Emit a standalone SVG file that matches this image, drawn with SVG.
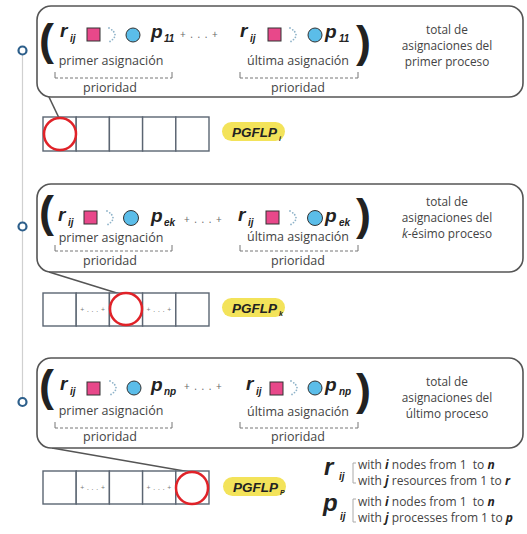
<svg xmlns="http://www.w3.org/2000/svg" width="527" height="534" viewBox="0 0 527 534">
<style>
.box{fill:#fff;stroke:#555;stroke-width:1.6}
.tail{fill:none;stroke:#555;stroke-width:1.6}
.cell{fill:#fff;stroke:#5b6572;stroke-width:1.4}
.mark{fill:none;stroke:#e02228;stroke-width:2.5}
.res{fill:#e8488a;stroke:#333;stroke-width:1}
.proc{fill:#5bbde9;stroke:#333;stroke-width:1}
.dots{fill:none;stroke:#8fb3c9;stroke-width:1.8;stroke-linecap:round;stroke-dasharray:0 3}
.var{font-family:"Liberation Sans",Arial,sans-serif;font-weight:bold;font-style:italic;font-size:19px;fill:#222}
.sub{font-family:"Liberation Sans",Arial,sans-serif;font-weight:bold;font-style:italic;font-size:10px;fill:#222}
.paren{font-family:"Liberation Sans",Arial,sans-serif;font-weight:bold;font-size:45px;fill:#222}
.lbl{font-family:"Open Sans",sans-serif;font-size:12.5px;fill:#444}
.rt{font-family:"Open Sans",sans-serif;font-size:11.8px;fill:#444;text-anchor:middle}
.mid{text-anchor:middle}
.brk{fill:none;stroke:#777;stroke-width:1;stroke-dasharray:3 2}
.tick{fill:none;stroke:#777;stroke-width:1}
.plus{font-family:"Open Sans",sans-serif;font-size:10px;fill:#666;letter-spacing:1px}
.cplus{font-family:"Open Sans",sans-serif;font-size:7px;fill:#777;text-anchor:middle;letter-spacing:0.5px}
.pill{fill:#f3e35a}
.pg{font-family:"Liberation Sans",Arial,sans-serif;font-weight:bold;font-style:italic;font-size:13.5px;fill:#222}
.tl{stroke:#d0d0d0;stroke-width:1.2}
.node{fill:#fff;stroke:#2d5f8b;stroke-width:2.2}
.leg{font-family:"Open Sans",sans-serif;font-size:12px;fill:#444}
.bi{font-weight:bold;font-style:italic;fill:#222}
</style>

<g id="timeline">
<line class="tl" x1="22.5" y1="50" x2="22.5" y2="403"/>
<circle class="node" cx="22.5" cy="50.5" r="4"/>
<circle class="node" cx="22.5" cy="226.5" r="4"/>
<circle class="node" cx="22.5" cy="402" r="4"/>
</g>

<g id="connectors">
<line class="tail" x1="49" y1="97" x2="59" y2="118"/>
<line class="tail" x1="49" y1="272" x2="120" y2="294"/>
<line class="tail" x1="52" y1="448" x2="190" y2="472"/>
</g>

<g id="proc1">
<rect class="box" x="37" y="6" width="486" height="91" rx="14"/>
<text class="paren" x="39" y="55">(</text>
<text class="var" x="60" y="37">r</text><text class="sub" x="70" y="42">ij</text>
<rect class="res" x="87" y="28" width="13" height="13"/>
<path class="dots" d="M109,28 Q121,35 109,42"/>
<circle class="proc" cx="133" cy="35" r="7"/>
<text class="var" x="151" y="38">p</text><text class="sub" x="164" y="42">11</text>
<text class="plus" x="180" y="38">+ . . . +</text>
<text class="var" x="240" y="37">r</text><text class="sub" x="250" y="42">ij</text>
<rect class="res" x="268" y="28" width="13" height="13"/>
<path class="dots" d="M290,28 Q302,35 290,42"/>
<circle class="proc" cx="315" cy="35" r="7"/>
<text class="var" x="325" y="38">p</text><text class="sub" x="339" y="42">11</text>
<text class="paren" x="356" y="57">)</text>
<text class="lbl mid" x="111" y="65">primer asignación</text>
<text class="lbl mid" x="298" y="65">última asignación</text>
<path class="brk" d="M55,78 H172"/><path class="tick" d="M55,72 V78 M172,72 V78"/>
<path class="brk" d="M240,78 H358"/><path class="tick" d="M240,72 V78 M358,72 V78"/>
<text class="lbl mid" x="110" y="92">prioridad</text>
<text class="lbl mid" x="298" y="92">prioridad</text>
<text class="rt" x="447" y="34">total de</text>
<text class="rt" x="447" y="50">asignaciones del</text>
<text class="rt" x="447" y="66">primer proceso</text>
</g>

<g id="array1">
<rect class="cell" x="43" y="117" width="33.2" height="34"/>
<rect class="cell" x="76.2" y="117" width="33.2" height="34"/>
<rect class="cell" x="109.4" y="117" width="33.2" height="34"/>
<rect class="cell" x="142.6" y="117" width="33.2" height="34"/>
<rect class="cell" x="175.8" y="117" width="33.2" height="34"/>
<circle class="mark" cx="60" cy="134" r="16"/>
</g>
<g id="pgflp1">
<rect class="pill" x="222" y="122" width="63" height="19" rx="9.5"/>
<text class="pg" x="232" y="137">PGFLP</text><text class="sub" x="279" y="141" style="font-size:7px">i</text>
</g>

<g id="proc2">
<rect class="box" x="37" y="184" width="486" height="88" rx="14"/>
<text class="paren" x="39" y="227">(</text>
<text class="var" x="58" y="221">r</text><text class="sub" x="68" y="226">ij</text>
<rect class="res" x="84" y="211" width="13" height="13"/>
<path class="dots" d="M107,211 Q119,218 107,225"/>
<circle class="proc" cx="131" cy="218" r="7.5"/>
<text class="var" x="151" y="222">p</text><text class="sub" x="164" y="226">ek</text>
<text class="plus" x="184" y="223">+ . . . +</text>
<text class="var" x="238" y="221">r</text><text class="sub" x="248" y="226">ij</text>
<rect class="res" x="266" y="211" width="13" height="13"/>
<path class="dots" d="M290,211 Q302,218 290,225"/>
<circle class="proc" cx="315" cy="218" r="7.5"/>
<text class="var" x="325" y="222">p</text><text class="sub" x="339" y="226">ek</text>
<text class="paren" x="356" y="230">)</text>
<text class="lbl mid" x="111" y="242">primer asignación</text>
<text class="lbl mid" x="298" y="241">última asignación</text>
<path class="brk" d="M55,251 H172"/><path class="tick" d="M55,245 V251 M172,245 V251"/>
<path class="brk" d="M240,251 H358"/><path class="tick" d="M240,245 V251 M358,245 V251"/>
<text class="lbl mid" x="110" y="265">prioridad</text>
<text class="lbl mid" x="298" y="265">prioridad</text>
<text class="rt" x="447" y="206">total de</text>
<text class="rt" x="447" y="222">asignaciones del</text>
<text class="rt" x="447" y="238"><tspan font-style="italic">k</tspan>-ésimo proceso</text>
</g>

<g id="array2">
<rect class="cell" x="43" y="293" width="33.2" height="33"/>
<rect class="cell" x="76.2" y="293" width="33.2" height="33"/>
<rect class="cell" x="109.4" y="293" width="33.2" height="33"/>
<rect class="cell" x="142.6" y="293" width="33.2" height="33"/>
<rect class="cell" x="175.8" y="293" width="33.2" height="33"/>
<text class="cplus" x="92.8" y="312">+ . . . +</text>
<text class="cplus" x="159.2" y="312">+ . . . +</text>
<circle class="mark" cx="126" cy="309" r="16"/>
</g>
<g id="pgflp2">
<rect class="pill" x="222" y="298" width="63" height="19" rx="9.5"/>
<text class="pg" x="232" y="313">PGFLP</text><text class="sub" x="279" y="316" style="font-size:7px">k</text>
</g>

<g id="proc3">
<rect class="box" x="37" y="358" width="486" height="90" rx="14"/>
<text class="paren" x="39" y="401">(</text>
<text class="var" x="60" y="390">r</text><text class="sub" x="70" y="395">ij</text>
<rect class="res" x="87" y="382" width="13" height="13"/>
<path class="dots" d="M110,381 Q122,388 110,395"/>
<circle class="proc" cx="134" cy="388" r="7"/>
<text class="var" x="151" y="391">p</text><text class="sub" x="164" y="395">np</text>
<text class="plus" x="184" y="390">+ . . . +</text>
<text class="var" x="246" y="390">r</text><text class="sub" x="256" y="395">ij</text>
<rect class="res" x="270" y="382" width="13" height="13"/>
<path class="dots" d="M291,381 Q303,388 291,395"/>
<circle class="proc" cx="315" cy="388" r="7"/>
<text class="var" x="325" y="391">p</text><text class="sub" x="339" y="395">np</text>
<text class="paren" x="356" y="405">)</text>
<text class="lbl mid" x="111" y="415">primer asignación</text>
<text class="lbl mid" x="298" y="416">última asignación</text>
<path class="brk" d="M55,428 H172"/><path class="tick" d="M55,422 V428 M172,422 V428"/>
<path class="brk" d="M240,428 H358"/><path class="tick" d="M240,422 V428 M358,422 V428"/>
<text class="lbl mid" x="110" y="441">prioridad</text>
<text class="lbl mid" x="298" y="441">prioridad</text>
<text class="rt" x="447" y="386">total de</text>
<text class="rt" x="447" y="402">asignaciones del</text>
<text class="rt" x="447" y="418">último proceso</text>
</g>

<g id="array3">
<rect class="cell" x="43" y="471" width="33.2" height="33"/>
<rect class="cell" x="76.2" y="471" width="33.2" height="33"/>
<rect class="cell" x="109.4" y="471" width="33.2" height="33"/>
<rect class="cell" x="142.6" y="471" width="33.2" height="33"/>
<rect class="cell" x="175.8" y="471" width="33.2" height="33"/>
<text class="cplus" x="92.8" y="490">+ . . . +</text>
<text class="cplus" x="159.2" y="490">+ . . . +</text>
<circle class="mark" cx="192" cy="488" r="16"/>
</g>
<g id="pgflp3">
<rect class="pill" x="223" y="477" width="63" height="19" rx="9.5"/>
<text class="pg" x="233" y="492">PGFLP</text><text class="sub" x="280" y="495" style="font-size:7px">P</text>
</g>

<g id="legend">
<text class="var" x="324" y="475" style="font-size:24px">r</text><text class="sub" x="339" y="480">ij</text>
<path class="tick" d="M356,463 H353 V483 H356" style="stroke:#aaa"/>
<text class="leg" x="358" y="469">with <tspan class="bi">i</tspan> nodes from 1&#160; to <tspan class="bi">n</tspan></text>
<text class="leg" x="358" y="485">with <tspan class="bi">j</tspan> resources from 1 to <tspan class="bi">r</tspan></text>
<text class="var" x="323" y="511" style="font-size:24px">p</text><text class="sub" x="340" y="520">ij</text>
<path class="tick" d="M356,499 H353 V522 H356" style="stroke:#aaa"/>
<text class="leg" x="358" y="506">with <tspan class="bi">i</tspan> nodes from 1&#160; to <tspan class="bi">n</tspan></text>
<text class="leg" x="358" y="522">with <tspan class="bi">j</tspan> processes from 1 to <tspan class="bi">p</tspan></text>
</g>
</svg>
